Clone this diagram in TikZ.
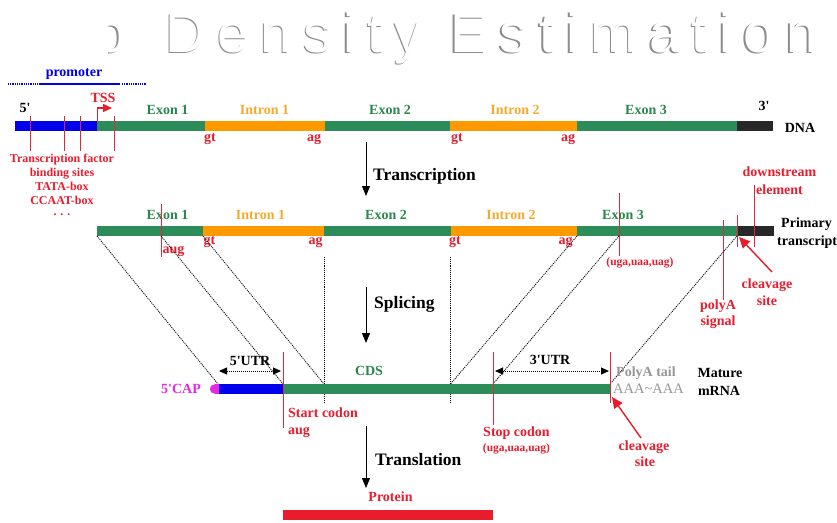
\documentclass[tikz,border=0pt]{standalone}
\usepackage{fontspec}
\setmainfont{Liberation Serif}
\newfontfamily\titlefont[LetterSpace=21]{Liberation Sans}
\usetikzlibrary{arrows.meta}

\definecolor{exgreen}{RGB}{44,140,90}
\definecolor{exlabel}{RGB}{40,135,75}
\definecolor{inorange}{RGB}{255,153,0}
\definecolor{inlabel}{RGB}{245,170,45}
\definecolor{prblue}{RGB}{0,0,235}
\definecolor{tailgray}{RGB}{40,40,40}
\definecolor{mkred}{RGB}{232,28,45}
\definecolor{mkline}{RGB}{222,40,60}
\definecolor{capmag}{RGB}{230,40,230}
\definecolor{polygray}{RGB}{150,150,150}
\definecolor{shadowgray}{RGB}{140,140,140}

\newcommand{\pr}{\textquotesingle}

\tikzset{
  lbl/.style={inner sep=0pt, text height=9.3pt, text depth=0pt,
    font=\fontsize{14}{16}\selectfont\bfseries},
  small/.style={inner sep=0pt, text height=8pt, text depth=0pt,
    font=\fontsize{12}{14}\selectfont\bfseries},
  tiny/.style={inner sep=0pt, text height=7.6pt, text depth=0pt,
    font=\fontsize{11.5}{13}\selectfont\bfseries},
  steplbl/.style={inner sep=0pt, text height=11.5pt, text depth=0pt,
    font=\fontsize{17.5}{20}\selectfont\bfseries, anchor=west},
  stepArrow/.style={line width=1pt, -{Triangle[length=10pt,width=8pt]}},
  marker/.style={draw=mkline, line width=0.9pt},
  guide/.style={line width=0.8pt, dash pattern=on 1.1pt off 1pt},
  utrArrow/.style={line width=1pt, dash pattern=on 1pt off 1pt,
    {Triangle[length=8pt,width=7pt]}-{Triangle[length=8pt,width=7pt]}},
  redArrow/.style={draw=mkred, line width=1.4pt, -{Triangle[length=11pt,width=10pt]}},
  headline/.style={inner sep=0pt, anchor=base west,
    font=\titlefont\fontsize{56}{60}\selectfont},
}

\begin{document}
\begin{tikzpicture}[x=1pt,y=-1pt]
\useasboundingbox (0,0) rectangle (837,522);

% ---------- heading ----------
\node[headline, text=shadowgray] (titleS) at (164,53.5) {Density Estimation};
\node[headline, text=white] (title) at (165.5,52) {Density Estimation};
\begin{scope}
  \clip (108,0) rectangle (140,60);
  \node[headline, text=shadowgray] (oS) at (93.5,53.5) {o};
  \node[headline, text=white] (o) at (95,52) {o};
\end{scope}

% ---------- promoter ----------
\node[lbl, text=prblue] (promoter) at (74,72) {promoter};
\coordinate (pm0) at (8,84);
\coordinate (pm1) at (39,84);
\coordinate (pm2) at (40,84);
\coordinate (pm3) at (120,84);
\coordinate (pm4) at (122,84);
\coordinate (pm5) at (146,84);
\draw[prblue, line width=1.3pt, dash pattern=on 1pt off 0.8pt] (pm0) -- (pm1);
\draw[prblue, line width=1.3pt] (pm2) -- (pm3);
\draw[prblue, line width=1.3pt, dash pattern=on 1pt off 0.8pt] (pm4) -- (pm5);

% ---------- DNA ----------
\fill[prblue]    (15,121) rectangle (97,131);
\fill[exgreen]   (97,121) rectangle (205,131);
\fill[inorange]  (205,121) rectangle (325,131);
\fill[exgreen]   (325,121) rectangle (450,131);
\fill[inorange]  (450,121) rectangle (577,131);
\fill[exgreen]   (577,121) rectangle (737,131);
\fill[tailgray]  (737,121) rectangle (773,131);

\node[lbl] (five) at (25,108) {5\pr};
\node[lbl] (three) at (764,106) {3\pr};
\node[lbl] (dna) at (800,128) {DNA};
\node[lbl, text=exlabel] (dEx1) at (167.5,110) {Exon 1};
\node[lbl, text=inlabel] (dIn1) at (264.5,110) {Intron 1};
\node[lbl, text=exlabel] (dEx2) at (390,110) {Exon 2};
\node[lbl, text=inlabel] (dIn2) at (515,110) {Intron 2};
\node[lbl, text=exlabel] (dEx3) at (646,110) {Exon 3};
\node[lbl, text=mkred] (dgt1) at (210,137) {gt};
\node[lbl, text=mkred] (dag1) at (314,137) {ag};
\node[lbl, text=mkred] (dgt2) at (457,137) {gt};
\node[lbl, text=mkred] (dag2) at (568,137) {ag};

% binding-site markers
\foreach \xx/\nm in {30/b1, 64/b2, 80.5/b3, 114/b4} {
  \coordinate (\nm t) at (\xx,116);
  \coordinate (\nm b) at (\xx,151);
  \draw[marker] (\nm t) -- (\nm b);
}
\coordinate (tssBase) at (97.5,121);
\coordinate (tssTip) at (112,108);
\draw[draw=mkred, line width=1.2pt, -{Triangle[length=9pt,width=8pt]}] (tssBase) |- (tssTip);
\node[lbl, text=mkred] (tss) at (103,98) {TSS};

\node[small, text=mkred] (tf1) at (62,158) {Transcription factor};
\node[small, text=mkred] (tf2) at (62,172) {binding sites};
\node[small, text=mkred] (tf3) at (62,186) {TATA-box};
\node[small, text=mkred] (tf4) at (62,200) {CCAAT-box};
\node[small, text=mkred] (tf5) at (62,211) {. . .};

% ---------- transcription ----------
\coordinate (trA) at (366,142);
\coordinate (trB) at (366,196);
\draw[stepArrow] (trA) -- (trB);
\node[steplbl] (transcription) at (373,175) {Transcription};

% ---------- primary transcript ----------
\fill[exgreen]   (97,226) rectangle (203,236);
\fill[inorange]  (203,226) rectangle (324,236);
\fill[exgreen]   (324,226) rectangle (451,236);
\fill[inorange]  (451,226) rectangle (577,236);
\fill[exgreen]   (577,226) rectangle (737,236);
\fill[tailgray]  (737,226) rectangle (774,236);

\node[lbl, text=exlabel] (pEx1) at (167.5,215) {Exon 1};
\node[lbl, text=inlabel] (pIn1) at (260.5,215) {Intron 1};
\node[lbl, text=exlabel] (pEx2) at (386,215) {Exon 2};
\node[lbl, text=inlabel] (pIn2) at (511,215) {Intron 2};
\node[lbl, text=exlabel] (pEx3) at (623,215) {Exon 3};
\node[lbl, text=mkred] (pgt1) at (209.5,240) {gt};
\node[lbl, text=mkred] (pag1) at (315.5,240) {ag};
\node[lbl, text=mkred] (pgt2) at (455,240) {gt};
\node[lbl, text=mkred] (pag2) at (565.5,240) {ag};
\node[lbl] (primary) at (806.5,223) {Primary};
\node[lbl, anchor=west] (transcript) at (777,241) {transcript};

% markers on the primary transcript
\coordinate (augT) at (161,204);   \coordinate (augB) at (161,257);
\coordinate (stpT) at (619,193);   \coordinate (stpB) at (619,256);
\coordinate (plyT) at (723.5,220); \coordinate (plyB) at (723.5,300);
\coordinate (clvT) at (737,215);   \coordinate (clvB) at (737,247);
\coordinate (dwnT) at (754,185);   \coordinate (dwnB) at (754,247);
\draw[marker] (augT) -- (augB);
\draw[marker] (stpT) -- (stpB);
\draw[marker] (plyT) -- (plyB);
\draw[marker] (clvT) -- (clvB);
\draw[marker] (dwnT) -- (dwnB);
\node[lbl, text=mkred, anchor=west] (aug1) at (162.5,249) {aug};
\node[tiny, text=mkred] (codons1) at (640,262) {(uga,uaa,uag)};
\node[lbl, text=mkred] (polyA) at (718,305) {polyA};
\node[lbl, text=mkred] (signal) at (718,321) {signal};
\node[lbl, text=mkred] (downstream) at (779.5,172) {downstream};
\node[lbl, text=mkred, anchor=west] (element) at (756,190) {element};
\coordinate (cvFrom) at (772,272);
\coordinate (cvTo) at (739,237);
\draw[redArrow] (cvFrom) -- (cvTo);
\node[lbl, text=mkred] (cleav1) at (767,284) {cleavage};
\node[lbl, text=mkred] (site1) at (767,301) {site};

% ---------- splicing guides ----------
\coordinate (g1a) at (97,236);  \coordinate (g1b) at (218,384);
\coordinate (g2a) at (161,236); \coordinate (g2b) at (283,384);
\coordinate (g3a) at (203,236); \coordinate (g3b) at (324,384);
\coordinate (g4a) at (577,236); \coordinate (g4b) at (450.5,384);
\coordinate (g5a) at (619,236); \coordinate (g5b) at (493,384);
\coordinate (g6a) at (737,236); \coordinate (g6b) at (610,384);
\coordinate (v1a) at (324,257); \coordinate (v1b) at (324,403);
\coordinate (v2a) at (450.5,257); \coordinate (v2b) at (450.5,403);
\foreach \a/\b in {g1a/g1b, g2a/g2b, g3a/g3b, g4a/g4b, g5a/g5b, g6a/g6b, v1a/v1b, v2a/v2b}
  \draw[guide] (\a) -- (\b);

\coordinate (spA) at (366,287);
\coordinate (spB) at (366,343);
\draw[stepArrow] (spA) -- (spB);
\node[steplbl] (splicing) at (374,303) {Splicing};

% ---------- mature mRNA ----------
% rounded 5' cap on the left end of the transcript
\fill[capmag] (214.6,389) circle[radius=4.7];
\fill[capmag] (214.6,384.3) rectangle (218.5,393.7);
\fill[prblue]  (218.5,384) rectangle (283,393.5);
\fill[exgreen] (283,384) rectangle (610,393.5);
\node[lbl, text=capmag] (cap) at (181,389) {5\pr CAP};
\node[lbl, text=exlabel] (cds) at (369,371) {CDS};

\coordinate (u5a) at (219,371); \coordinate (u5b) at (281,371);
\draw[utrArrow] (u5a) -- (u5b);
\node[lbl] (utr5) at (250,361) {5\pr UTR};
\coordinate (u3a) at (495,371); \coordinate (u3b) at (609,371);
\draw[utrArrow] (u3a) -- (u3b);
\node[lbl] (utr3) at (550,360) {3\pr UTR};

\coordinate (scT) at (283,352); \coordinate (scB) at (283,428);
\coordinate (spT) at (493,352); \coordinate (spB2) at (493,425);
\coordinate (csT) at (610,352); \coordinate (csB) at (610,403);
\draw[marker] (scT) -- (scB);
\draw[marker] (spT) -- (spB2);
\draw[marker] (csT) -- (csB);

\node[lbl, text=mkred, anchor=west] (startc) at (288,413) {Start codon};
\node[lbl, text=mkred, anchor=west] (aug2) at (288,430) {aug};
\node[lbl, text=mkred] (stopc) at (516.5,432) {Stop codon};
\node[tiny, text=mkred] (codons2) at (516.5,448) {(uga,uaa,uag)};

\node[lbl, text=polygray, anchor=west] (tail) at (616,372) {PolyA tail};
\node[lbl, text=polygray, anchor=west, font=\fontsize{14.5}{16}\selectfont] (aaa) at (613,389) {AAA\char"007E AAA};
\node[lbl] (mature) at (720,373) {Mature};
\node[lbl] (mrna) at (719,391) {mRNA};

\coordinate (cv2From) at (641,438);
\coordinate (cv2To) at (612,397);
\draw[redArrow] (cv2From) -- (cv2To);
\node[lbl, text=mkred] (cleav2) at (644,446) {cleavage};
\node[lbl, text=mkred] (site2) at (645,462) {site};

% ---------- translation ----------
\coordinate (tlA) at (366,426);
\coordinate (tlB) at (366,488);
\draw[stepArrow] (tlA) -- (tlB);
\node[steplbl] (translation) at (375,460) {Translation};
\node[lbl, text=mkred] (protein) at (390.5,497) {Protein};
\fill[mkred] (283,510) rectangle (493,520);

\end{tikzpicture}
\end{document}
